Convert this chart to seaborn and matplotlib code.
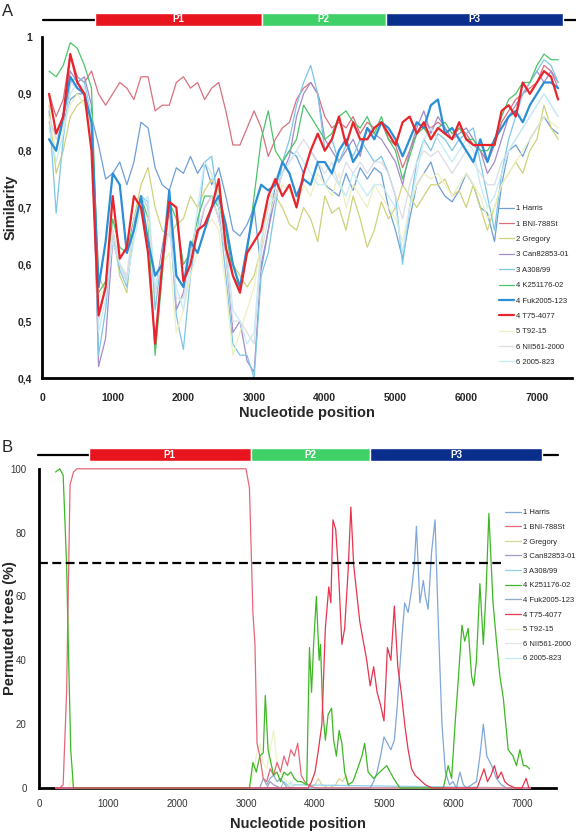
import numpy as np
import pandas as pd
import seaborn as sns
import matplotlib.pyplot as plt

sns.set_style("white")
plt.rcParams['font.family'] = ['Liberation Sans', 'DejaVu Sans']

strains = ["1 Harris", "1 BNI-788St", "2 Gregory", "3 Can82853-01", "3 A308/99",
           "4 K251176-02", "4 Fuk2005-123", "4 T75-4077", "5 T92-15",
           "6 NII561-2000", "6 2005-823"]
colors_a = ["#6E9FD6", "#D8707E", "#CFD27A", "#A58BC8", "#7CC6E6", "#4CC46A",
            "#2A8FD6", "#E8242C", "#EDF0C0", "#DCDCE4", "#C4EBF6"]
colors_b = ["#7FA7D9", "#E6677A", "#D8D59A", "#A897CB", "#8FD0EA", "#3DB824",
            "#92AAC6", "#E8344E", "#EEF2C8", "#E2E2EA", "#BFEAF6"]

# ---- panel A: similarity, window positions 100..7300 step 100
pos_a = list(range(100, 7400, 100))

sim_harris = [0.82, 0.80, 0.85, 0.89, 0.90, 0.90, 0.86,
              0.81, 0.75, 0.76, 0.78, 0.74, 0.78, 0.85, 0.84,
              0.77, 0.74, 0.73, 0.77, 0.76, 0.79, 0.76, 0.78,
              0.74, 0.77, 0.72, 0.66, 0.65, 0.67, 0.70, 0.59,
              0.66, 0.74, 0.78, 0.80, 0.79, 0.76, 0.80, 0.78,
              0.74, 0.73, 0.72, 0.76, 0.73, 0.77, 0.75, 0.77,
              0.76, 0.70, 0.66, 0.61, 0.68, 0.74, 0.76, 0.78,
              0.74, 0.72, 0.71, 0.73, 0.76, 0.74, 0.70, 0.69,
              0.64, 0.74, 0.80, 0.81, 0.79, 0.82, 0.84, 0.86, 0.84, 0.83]
sim_bni = [0.90, 0.86, 0.89, 0.97, 0.93, 0.92, 0.94,
           0.90, 0.88, 0.90, 0.92, 0.91, 0.89, 0.93, 0.93,
           0.87, 0.88, 0.88, 0.92, 0.93, 0.91, 0.92, 0.89,
           0.91, 0.92, 0.87, 0.81, 0.81, 0.84, 0.87, 0.84,
           0.79, 0.82, 0.84, 0.85, 0.89, 0.91, 0.92, 0.90,
           0.86, 0.84, 0.85, 0.84, 0.86, 0.83, 0.85, 0.84,
           0.85, 0.82, 0.81, 0.77, 0.80, 0.83, 0.85, 0.84,
           0.85, 0.84, 0.82, 0.84, 0.83, 0.81, 0.80, 0.78,
           0.81, 0.85, 0.87, 0.89, 0.90, 0.91, 0.92, 0.95, 0.94, 0.92]
sim_gregory = [0.88, 0.76, 0.80, 0.86, 0.88, 0.89, 0.85,
               0.58, 0.55, 0.66, 0.58, 0.55, 0.68, 0.74, 0.77,
               0.70, 0.66, 0.65, 0.67, 0.68, 0.72, 0.70, 0.73,
               0.75, 0.73, 0.62, 0.60, 0.58, 0.56, 0.58, 0.63,
               0.72, 0.72, 0.70, 0.67, 0.66, 0.70, 0.68, 0.64,
               0.72, 0.69, 0.70, 0.66, 0.72, 0.68, 0.63, 0.66,
               0.71, 0.68, 0.70, 0.74, 0.72, 0.70, 0.72, 0.74,
               0.74, 0.75, 0.72, 0.73, 0.70, 0.74, 0.70, 0.66,
               0.70, 0.74, 0.76, 0.78, 0.76, 0.80, 0.82, 0.88, 0.84, 0.82]
sim_can = [0.85, 0.83, 0.86, 0.94, 0.92, 0.93, 0.88,
           0.42, 0.47, 0.64, 0.60, 0.57, 0.67, 0.72, 0.70,
           0.55, 0.63, 0.70, 0.52, 0.55, 0.62, 0.65, 0.70,
           0.72, 0.68, 0.62, 0.48, 0.50, 0.43, 0.41, 0.60,
           0.66, 0.72, 0.76, 0.79, 0.86, 0.90, 0.92, 0.90,
           0.82, 0.80, 0.78, 0.80, 0.82, 0.79, 0.84, 0.83,
           0.82, 0.80, 0.78, 0.74, 0.80, 0.84, 0.87, 0.83,
           0.86, 0.84, 0.82, 0.83, 0.84, 0.82, 0.80, 0.76,
           0.78, 0.82, 0.86, 0.88, 0.90, 0.92, 0.94, 0.92, 0.94, 0.91]
sim_a308 = [0.87, 0.69, 0.82, 0.92, 0.93, 0.92, 0.86,
            0.44, 0.52, 0.66, 0.59, 0.56, 0.66, 0.72, 0.71,
            0.52, 0.62, 0.69, 0.51, 0.45, 0.58, 0.66, 0.78,
            0.79, 0.70, 0.58, 0.46, 0.44, 0.44, 0.40, 0.58,
            0.62, 0.70, 0.78, 0.82, 0.88, 0.92, 0.95, 0.90,
            0.80, 0.82, 0.78, 0.81, 0.79, 0.82, 0.80, 0.78,
            0.79, 0.76, 0.72, 0.60, 0.70, 0.78, 0.82, 0.80,
            0.83, 0.82, 0.80, 0.82, 0.83, 0.84, 0.78, 0.72,
            0.66, 0.76, 0.82, 0.86, 0.90, 0.92, 0.94, 0.96, 0.95, 0.92]
sim_k251 = [0.94, 0.93, 0.95, 0.99, 0.98, 0.95, 0.91,
            0.55, 0.57, 0.68, 0.63, 0.62, 0.68, 0.72, 0.68,
            0.44, 0.58, 0.71, 0.68, 0.60, 0.62, 0.68, 0.72,
            0.72, 0.70, 0.66, 0.58, 0.56, 0.62, 0.72, 0.82,
            0.87, 0.80, 0.78, 0.80, 0.82, 0.88, 0.86, 0.84,
            0.82, 0.83, 0.86, 0.87, 0.85, 0.84, 0.86, 0.83,
            0.86, 0.82, 0.80, 0.75, 0.79, 0.83, 0.84, 0.82,
            0.84, 0.85, 0.83, 0.84, 0.82, 0.82, 0.80, 0.80,
            0.82, 0.86, 0.89, 0.90, 0.92, 0.92, 0.95, 0.97, 0.96, 0.96]
sim_fuk = [0.82, 0.80, 0.86, 0.93, 0.91, 0.90, 0.85,
           0.56, 0.64, 0.76, 0.74, 0.62, 0.66, 0.72, 0.64,
           0.58, 0.60, 0.73, 0.58, 0.56, 0.64, 0.62, 0.66,
           0.70, 0.72, 0.67, 0.60, 0.56, 0.63, 0.70, 0.74,
           0.73, 0.74, 0.78, 0.76, 0.72, 0.75, 0.74, 0.78,
           0.78, 0.76, 0.80, 0.82, 0.78, 0.80, 0.84, 0.82,
           0.85, 0.84, 0.82, 0.79, 0.82, 0.85, 0.84, 0.88,
           0.89, 0.83, 0.84, 0.82, 0.80, 0.78, 0.82, 0.78,
           0.82, 0.84, 0.86, 0.87, 0.85, 0.88, 0.90, 0.92, 0.92, 0.91]
sim_t75 = [0.90, 0.83, 0.86, 0.97, 0.92, 0.90, 0.80,
           0.51, 0.56, 0.72, 0.61, 0.63, 0.72, 0.70, 0.62,
           0.46, 0.60, 0.71, 0.70, 0.57, 0.60, 0.66, 0.67,
           0.70, 0.75, 0.63, 0.58, 0.55, 0.62, 0.64, 0.66,
           0.72, 0.75, 0.72, 0.74, 0.70, 0.76, 0.80, 0.83,
           0.80, 0.82, 0.86, 0.81, 0.85, 0.82, 0.82, 0.84,
           0.85, 0.83, 0.81, 0.85, 0.86, 0.83, 0.85, 0.82,
           0.84, 0.83, 0.82, 0.85, 0.82, 0.81, 0.81, 0.81,
           0.81, 0.87, 0.88, 0.86, 0.92, 0.90, 0.92, 0.94, 0.93, 0.89]
sim_t92 = [0.86, 0.80, 0.84, 0.88, 0.90, 0.88, 0.84,
           0.54, 0.56, 0.66, 0.60, 0.58, 0.66, 0.70, 0.68,
           0.56, 0.60, 0.62, 0.48, 0.52, 0.58, 0.62, 0.66,
           0.68, 0.66, 0.56, 0.44, 0.48, 0.52, 0.56, 0.64,
           0.70, 0.72, 0.74, 0.73, 0.70, 0.74, 0.72, 0.76,
           0.74, 0.72, 0.76, 0.70, 0.74, 0.72, 0.70, 0.74,
           0.72, 0.70, 0.68, 0.64, 0.70, 0.74, 0.76, 0.75,
           0.76, 0.74, 0.72, 0.74, 0.76, 0.74, 0.72, 0.68,
           0.70, 0.74, 0.76, 0.78, 0.80, 0.82, 0.84, 0.86, 0.85, 0.84]
sim_nii = [0.86, 0.82, 0.85, 0.92, 0.91, 0.90, 0.85,
           0.50, 0.56, 0.66, 0.60, 0.58, 0.68, 0.72, 0.70,
           0.55, 0.62, 0.68, 0.54, 0.54, 0.62, 0.66, 0.70,
           0.72, 0.68, 0.62, 0.50, 0.50, 0.48, 0.46, 0.62,
           0.68, 0.72, 0.76, 0.78, 0.80, 0.82, 0.80, 0.78,
           0.76, 0.78, 0.74, 0.78, 0.76, 0.78, 0.76, 0.78,
           0.78, 0.76, 0.72, 0.68, 0.74, 0.78, 0.80, 0.79,
           0.80, 0.78, 0.76, 0.78, 0.80, 0.78, 0.76, 0.74,
           0.74, 0.78, 0.80, 0.82, 0.84, 0.86, 0.88, 0.90, 0.88, 0.86]
sim_2005 = [0.84, 0.78, 0.83, 0.90, 0.92, 0.91, 0.86,
            0.48, 0.54, 0.64, 0.60, 0.57, 0.64, 0.70, 0.72,
            0.56, 0.60, 0.66, 0.56, 0.52, 0.60, 0.70, 0.78,
            0.76, 0.70, 0.64, 0.52, 0.50, 0.46, 0.48, 0.64,
            0.70, 0.74, 0.76, 0.78, 0.80, 0.78, 0.76, 0.74,
            0.74, 0.76, 0.74, 0.72, 0.76, 0.74, 0.72, 0.74,
            0.74, 0.72, 0.70, 0.62, 0.70, 0.76, 0.82, 0.84,
            0.82, 0.80, 0.78, 0.80, 0.82, 0.80, 0.74, 0.70,
            0.72, 0.76, 0.80, 0.82, 0.84, 0.86, 0.88, 0.90, 0.88, 0.86]

sim_series = [sim_harris, sim_bni, sim_gregory, sim_can, sim_a308, sim_k251,
              sim_fuk, sim_t75, sim_t92, sim_nii, sim_2005]

# ---- panel B: bootscan (% permuted trees)
bx_harris = [240, 4800, 4850, 4900, 4950, 5000, 5050, 5100, 5150, 5190, 5230, 5270, 5300,
             5350, 5400, 5440, 5470, 5520, 5570, 5600, 5640, 5690, 5740, 5790, 5840, 5890,
             5950, 6000, 6050, 6100, 6150, 6200, 6340, 6390, 6440, 6490, 6560, 6630, 6700,
             6780, 7120]
by_harris = [0, 0, 2, 5, 10, 16, 14, 12, 15, 25, 38, 50, 58,
             55, 62, 70, 82, 58, 65, 60, 56, 74, 84, 50, 20, 5,
             1, 2, 0, 5, 1, 0, 2, 10, 20, 10, 7, 3, 1,
             0, 0]
bx_bni = [240, 300, 350, 400, 450, 500, 550, 3000, 3050, 3100, 3130, 3160, 3200, 3250,
          3300, 3350, 3400, 3450, 3500, 3550, 3600, 3650, 3700, 3750, 3800, 3850, 3900,
          4000, 7120]
by_bni = [0, 0, 1, 30, 95, 99, 100, 100, 94, 55, 45, 14, 10, 3,
          2, 6, 4, 8, 5, 10, 7, 12, 10, 14, 4, 2, 1,
          0, 0]
bx_gregory = [240, 3900, 4000, 4050, 4100, 4200, 4300, 4350, 4400, 4450, 4500, 7120]
by_gregory = [0, 0, 1, 3, 1, 0, 1, 3, 2, 4, 0, 0]
bx_can = [240, 3300, 3350, 3400, 3500, 7120]
by_can = [0, 0, 2, 1, 0, 0]
bx_a308 = [240, 3500, 3550, 3650, 3700, 7120]
by_a308 = [0, 0, 2, 0, 1, 0]
bx_k251 = [240, 300, 350, 400, 430, 460, 500, 3050, 3100, 3150, 3200, 3250, 3280, 3320,
           3400, 3450, 3500, 3550, 3600, 3650, 3700, 3750, 3800, 3880, 3920, 3950, 3980,
           4020, 4060, 4080, 4110, 4150, 4190, 4240, 4270, 4310, 4350, 4390, 4430, 4480,
           4550, 4600, 4680, 4720, 4770, 4850, 4940, 5040, 5140, 5230, 5860, 5930, 5980,
           6030, 6080, 6130, 6170, 6220, 6270, 6300, 6340, 6390, 6440, 6480, 6520, 6580,
           6630, 6680, 6730, 6800, 6870, 6920, 6970, 7020, 7060, 7110]
by_k251 = [99, 100, 98, 70, 40, 12, 0, 0, 8, 5, 10, 11, 29, 12,
           4, 5, 2, 5, 4, 5, 3, 2, 2, 1, 44, 30, 45,
           60, 40, 45, 25, 15, 23, 25, 15, 10, 18, 14, 5, 1,
           2, 5, 10, 14, 5, 3, 5, 7, 3, 0, 0, 7, 3,
           20, 35, 51, 46, 50, 35, 32, 40, 64, 45, 62, 86, 58,
           46, 35, 28, 12, 10, 7, 12, 7, 7, 6]
bx_fuk = [240, 3200, 3250, 3300, 3350, 3400, 3450, 3500, 3600, 7120]
by_fuk = [0, 0, 3, 1, 3, 4, 2, 3, 0, 0]
bx_t75 = [240, 3900, 3950, 4000, 4050, 4100, 4150, 4200, 4230, 4260, 4300, 4340, 4390,
          4430, 4480, 4520, 4560, 4600, 4650, 4700, 4750, 4800, 4850, 4900, 4950, 5000,
          5050, 5100, 5150, 5200, 5250, 5300, 5350, 5400, 5450, 5500, 5600, 5700, 6350,
          6400, 6450, 6500, 6550, 6600, 6650, 6700, 6750, 6800, 6900, 7000, 7060, 7100, 7120]
by_t75 = [0, 0, 2, 5, 12, 20, 50, 63, 58, 84, 81, 68, 45,
          50, 68, 88, 70, 62, 52, 46, 40, 32, 38, 30, 26, 21,
          44, 40, 57, 38, 30, 20, 12, 6, 4, 3, 1, 0, 0,
          3, 6, 2, 4, 7, 3, 5, 2, 1, 0, 0, 3, 0, 0]
bx_t92 = [240, 430, 470, 500, 3050, 3100, 3150, 3200, 3250, 3300, 3350, 3400, 3450, 3500,
          3550, 3600, 3700, 7120]
by_t92 = [0, 0, 3, 0, 0, 4, 10, 14, 8, 6, 12, 18, 8, 5,
          3, 2, 0, 0]
bx_nii = [240, 7120]
by_nii = [0, 0]
bx_2005 = [240, 3600, 3650, 3700, 7120]
by_2005 = [0, 0, 2, 0, 0]

boot_x = [bx_harris, bx_bni, bx_gregory, bx_can, bx_a308, bx_k251, bx_fuk, bx_t75,
          bx_t92, bx_nii, bx_2005]
boot_y = [by_harris, by_bni, by_gregory, by_can, by_a308, by_k251, by_fuk, by_t75,
          by_t92, by_nii, by_2005]

# genome regions (schematic)
regions = ["P1", "P2", "P3"]
region_colors = ["#E8141E", "#3FD068", "#0A2E8C"]
regions_a = [(747, 3106), (3106, 4860), (4860, 7365)]
regions_b = [(719, 3072), (3072, 4797), (4797, 7290)]

W, H = 576, 834
fig = plt.figure(figsize=(W / 100, H / 100), dpi=100)


def fx(px):
    return px / W


def fy(py):
    return 1 - py / H


def genome_bar(rect, xlim, spans, line_from, line_to):
    bax = fig.add_axes(rect)
    bax.set_xlim(*xlim)
    bax.set_ylim(-0.5, 0.5)
    bax.axis("off")
    bax.plot([line_from, line_to], [0, 0], color="black", lw=1.6, clip_on=False, zorder=1)
    for name, col, (s, e) in zip(regions, region_colors, spans):
        bax.barh(0, e - s, left=s, height=1.0, color=col, zorder=2)
        bax.text((s + e) / 2, 0, name, color="white", fontsize=7, fontweight="bold",
                 ha="center", va="center", zorder=3)
    return bax


# ---------- panel A
xlim_a = (0, 7496)
ax_a = fig.add_axes([fx(42), fy(378), fx(530), 341 / H])
for i, (name, vals) in enumerate(zip(strains, sim_series)):
    thick = name in ("4 T75-4077", "4 Fuk2005-123")
    z = 4 if name == "4 T75-4077" else (3 if thick else 2)
    sns.lineplot(x=pos_a, y=vals, ax=ax_a, color=colors_a[i], linewidth=1.6 if thick else 0.9,
                 label=name, zorder=z, estimator=None, sort=False)
ax_a.set_xlim(*xlim_a)
ax_a.set_ylim(0.4, 1.0)
ax_a.set_yticks([0.4, 0.5, 0.6, 0.7, 0.8, 0.9, 1.0])
ax_a.set_yticklabels(["0,4", "0,5", "0,6", "0,7", "0,8", "0,9", "1"])
ax_a.set_xticks(range(0, 8000, 1000))
for lab in ax_a.get_xticklabels() + ax_a.get_yticklabels():
    lab.set_fontweight("bold")
    lab.set_fontsize(7.5)
ax_a.set_xlabel("Nucleotide position", fontsize=10.5, fontweight="bold")
ax_a.xaxis.set_label_coords(0.5, -(413 - 378) / 341)
ax_a.xaxis.label.set_va("center")
ax_a.set_ylabel("Similarity", fontsize=10.5, fontweight="bold")
ax_a.yaxis.set_label_coords(-(42 - 11) / 530, 0.5)
ax_a.yaxis.label.set_va("center")
ax_a.tick_params(direction="out", length=3, width=1.5)
ax_a.tick_params(axis="x", pad=8)
ax_a.tick_params(axis="y", pad=4)
for s in ("top", "right"):
    ax_a.spines[s].set_visible(False)
for s in ("left", "bottom"):
    ax_a.spines[s].set_linewidth(2)
    ax_a.spines[s].set_color("black")
h, l = ax_a.get_legend_handles_labels()
ax_a.get_legend().remove()
fig.legend(h, l, loc="upper left", bbox_to_anchor=(fx(499), fy(205)), frameon=False,
           prop={"family": ["Liberation Sans Narrow", "Liberation Sans"], "size": 5.5},
           handlelength=2.0, handletextpad=0.2, labelspacing=1.05, borderpad=0,
           borderaxespad=0)

genome_bar([fx(42), fy(26), fx(530), 13 / H], xlim_a, regions_a, 20, 8000)
fig.text(fx(2), fy(12), "A", fontsize=12, va="center", ha="left")

# ---------- panel B
xlim_b = (0, 7493)
ax_b = fig.add_axes([fx(39), fy(788), fx(517), 319.2 / H])
for i, (name, xs, ys) in enumerate(zip(strains, boot_x, boot_y)):
    z = 4 if name in ("4 K251176-02", "4 T75-4077", "1 Harris", "1 BNI-788St") else 3
    sns.lineplot(x=xs, y=ys, ax=ax_b, color=colors_b[i], linewidth=0.9, label=name,
                 zorder=z, estimator=None, sort=False, clip_on=False)
ax_b.hlines(70.5, 0, 6700, colors="black", linestyles=(0, (4, 2)), linewidth=1.6, zorder=5)
ax_b.set_xlim(*xlim_b)
ax_b.set_ylim(0, 100)
ax_b.set_yticks(range(0, 120, 20))
ax_b.set_xticks(range(0, 8000, 1000))
for lab in ax_b.get_xticklabels() + ax_b.get_yticklabels():
    lab.set_fontsize(7)
    lab.set_color("#333333")
ax_b.set_xlabel("Nucleotide position", fontsize=10.5, fontweight="bold")
ax_b.xaxis.set_label_coords(0.5, -(824 - 788) / 319.2)
ax_b.xaxis.label.set_va("center")
ax_b.set_ylabel("Permuted trees (%)", fontsize=10.5, fontweight="bold")
ax_b.yaxis.set_label_coords(-(39 - 10) / 517, 0.5)
ax_b.yaxis.label.set_va("center")
ax_b.tick_params(direction="out", length=3, width=1.5)
ax_b.tick_params(axis="x", pad=5)
ax_b.tick_params(axis="y", pad=6)
for s in ("top", "right"):
    ax_b.spines[s].set_visible(False)
for s in ("left", "bottom"):
    ax_b.spines[s].set_linewidth(2)
    ax_b.spines[s].set_color("black")
    ax_b.spines[s].set_zorder(2)
h, l = ax_b.get_legend_handles_labels()
ax_b.get_legend().remove()
fig.legend(h, l, loc="upper left", bbox_to_anchor=(fx(505), fy(509)), frameon=False,
           prop={"family": ["Liberation Sans Narrow", "Liberation Sans"], "size": 5.5},
           handlelength=2.1, handletextpad=0.2, labelspacing=0.95, borderpad=0,
           borderaxespad=0)

genome_bar([fx(39), fy(461), fx(517), 13 / H], xlim_b, regions_b, -14, 7522)
fig.text(fx(2), fy(447), "B", fontsize=12, va="center", ha="left")

fig.savefig("out.png", dpi=100, facecolor="white")
